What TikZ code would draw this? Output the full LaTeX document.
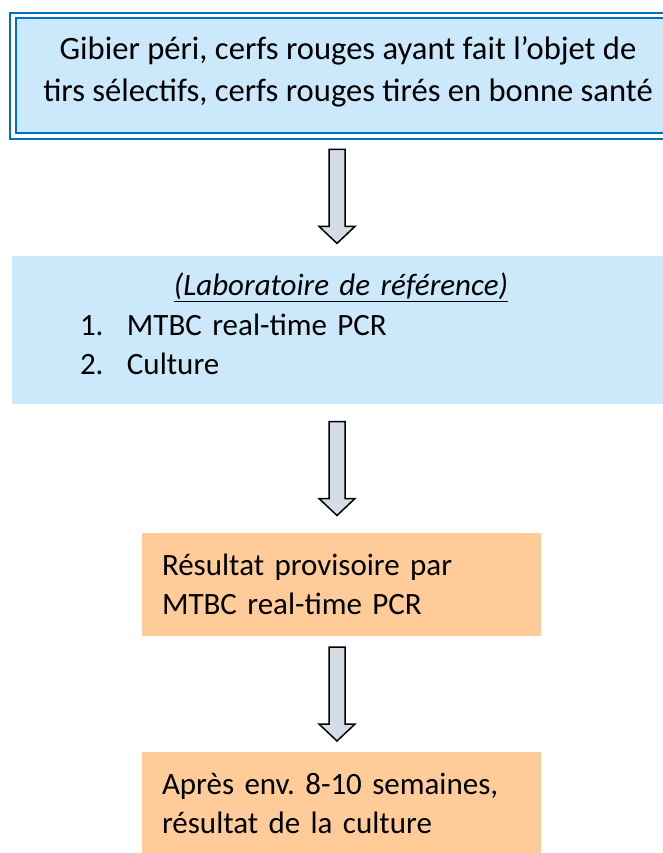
\documentclass[tikz,border=0pt]{standalone}
\usepackage{fontspec}
\setmainfont{Carlito}
\usetikzlibrary{calc}
\setlength{\parindent}{0pt}
\frenchspacing

\definecolor{boxblue}{RGB}{204,233,251}
\definecolor{boxorange}{RGB}{255,204,153}
\definecolor{rimblue}{RGB}{0,112,192}
\definecolor{arrowgrey}{RGB}{214,220,229}

\tikzset{
  boxtext/.style={font=\fontsize{31}{39.5}\selectfont, text=black},
  gamebox/.style={font=\fontsize{32.6}{41.5}\selectfont, draw=rimblue, line width=2pt,
    double=white, double distance=3.4pt, fill=boxblue, minimum width=670pt,
    minimum height=120.3pt, align=center, inner sep=0pt, text depth=14pt},
  labbox/.style={boxtext, fill=boxblue, minimum width=658pt, minimum height=148pt,
    text width=522pt, inner xsep=68pt, inner ysep=0pt},
  resultbox/.style={boxtext, fill=boxorange, minimum width=399pt, minimum height=103pt,
    text width=359pt, inner xsep=20pt, inner ysep=0pt, align=left},
  flowarrow/.style={draw=black, line width=1.5pt, fill=arrowgrey, line join=miter}
}

% block arrow from one box down to the next
\newcommand{\blockdown}[2]{%
  \coordinate (#1-#2) at ($(#1.south)!0.5!(#2.north)$);
  \draw[flowarrow] let \p1=(#1-#2) in
    (337pt-8pt,\y1+47pt) -- (337pt+8pt,\y1+47pt) -- (337pt+8pt,\y1-30pt)
    -- (337pt+18pt,\y1-30pt) -- (337pt,\y1-47pt) -- (337pt-18pt,\y1-30pt)
    -- (337pt-8pt,\y1-30pt) -- cycle;
}

\begin{document}
\begin{tikzpicture}[x=1pt,y=-1pt]
\useasboundingbox (0,0) rectangle (662,853);

% boxes
\node[gamebox] (game) at (348,75.85)
  {Gibier péri, cerfs rouges ayant fait l’objet de\\tirs sélectifs, cerfs rouges tirés en bonne santé};
\node[labbox] (lab) at (341,330)
  {{\centering\textit{\underline{(Laboratoire de référence)}}\par}
   \makebox[47pt][l]{1.}MTBC real-time PCR\par
   \makebox[47pt][l]{2.}Culture\par\vspace*{12pt}};
\node[resultbox] (prov) at (341.5,584.5)
  {Résultat provisoire par\\MTBC real-time PCR};
\node[resultbox] (cult) at (341.5,803.5)
  {Après env. 8-10 semaines,\\résultat de la culture};

% arrows
\blockdown{game}{lab}
\blockdown{lab}{prov}
\blockdown{prov}{cult}
\end{tikzpicture}
\end{document}
